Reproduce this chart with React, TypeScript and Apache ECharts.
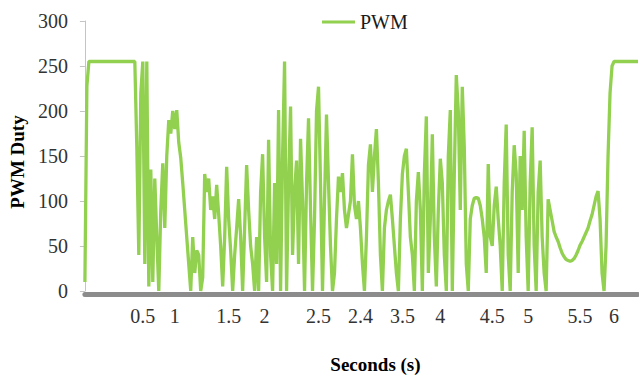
import React, { useEffect, useRef } from "react";
import * as echarts from "echarts";

// PWM duty samples (one sample per category step)
const pwmValues: number[] = [
  10, 228, 255, 255, 255, 255, 255, 255, 255, 255,
  255, 255, 255, 255, 255, 255, 255, 255, 255, 255,
  255, 255, 255, 255, 255, 255, 160, 40, 220, 255,
  30, 255, 5, 135, 10, 125, 60, 0, 90, 142,
  70, 150, 190, 175, 200, 180, 201, 165, 148, 120,
  90, 60, 30, 0, 60, 20, 45, 40, 0, 15,
  130, 110, 125, 90, 105, 80, 118, 85, 50, 5,
  60, 138, 80, 45, 0, 40, 70, 102, 60, 0,
  70, 140, 90, 50, 30, 0, 60, 0, 110, 152,
  60, 10, 168, 40, 0, 120, 30, 201, 0, 150,
  255, 0, 120, 205, 40, 110, 145, 30, 169, 100,
  0, 120, 192, 90, 0, 80, 200, 227, 120, 0,
  100, 196, 120, 50, 0, 20, 80, 127, 110, 131,
  90, 70, 85, 100, 152, 95, 80, 100, 70, 30,
  0, 60, 140, 163, 110, 150, 180, 120, 40, 0,
  70, 90, 100, 107, 80, 50, 20, 0, 80, 130,
  150, 158, 110, 60, 40, 0, 100, 132, 90, 0,
  130, 194, 20, 80, 174, 60, 5, 90, 147, 120,
  40, 0, 150, 201, 0, 130, 240, 200, 90, 227,
  160, 30, 0, 80, 95, 103, 104, 103, 95, 80,
  60, 20, 141, 60, 50, 95, 116, 80, 50, 0,
  120, 185, 40, 0, 110, 162, 130, 20, 150, 90,
  178, 60, 0, 120, 182, 50, 0, 110, 145, 60,
  20, 0, 102, 90, 78, 66, 60, 55, 48, 42,
  38, 35, 34, 33, 34, 36, 40, 45, 51, 55,
  60, 65, 70, 78, 85, 95, 105, 111, 80, 20,
  0, 50, 150, 220, 250, 255, 255, 255, 255, 255,
  255, 255, 255, 255, 255, 255, 255, 255,
];

// x tick labels: [sample index, label]
const xTickIndices: number[] = [29, 45, 72, 90, 117, 138, 159, 178, 204, 222, 248, 265];
const xTickLabels: string[] = ["0.5", "1", "1.5", "2", "2.5", "2.4", "3.5", "4", "4.5", "5", "5.5", "6"];

const categories: string[] = pwmValues.map((_, i) => String(i));

const SERIF = "'Liberation Serif', 'Times New Roman', serif";

export default function App() {
  const ref = useRef<HTMLDivElement>(null);

  useEffect(() => {
    document.body.style.margin = "0";
    if (!ref.current) return;
    const chart = echarts.init(ref.current, null, { renderer: "svg" });
    const labelMap: Record<number, string> = {};
    xTickIndices.forEach((idx, k) => {
      labelMap[idx] = xTickLabels[k];
    });

    chart.setOption({
      animation: false,
      backgroundColor: "#ffffff",
      grid: { left: 84, right: 1, top: 21, bottom: 82, containLabel: false },
      legend: {
        show: true,
        left: 317,
        top: 7,
        icon: "rect",
        itemWidth: 33,
        itemHeight: 3,
        textStyle: { fontFamily: SERIF, fontSize: 20, color: "#1a1a1a" },
        data: ["PWM"],
      },
      xAxis: {
        type: "category",
        data: categories,
        boundaryGap: false,
        name: "Seconds (s)",
        nameLocation: "middle",
        nameGap: 61,
        nameTextStyle: {
          fontFamily: SERIF,
          fontSize: 19,
          fontWeight: "bold",
          color: "#000",
          padding: [0, 0, 0, 28],
        },
        offset: 3,
        axisLine: { onZero: false, lineStyle: { color: "#8c8c8c", width: 5 } },
        axisTick: { show: false },
        axisLabel: {
          interval: (index: number) => labelMap[index] !== undefined,
          formatter: (_v: string, index: number) => labelMap[index] ?? "",
          fontFamily: SERIF,
          fontSize: 20,
          color: "#333",
          margin: 12,
        },
        splitLine: { show: false },
      },
      yAxis: {
        type: "value",
        min: 0,
        max: 300,
        interval: 50,
        name: "PWM Duty",
        nameLocation: "middle",
        nameRotate: 90,
        nameGap: 56,
        nameTextStyle: {
          fontFamily: SERIF,
          fontSize: 19,
          fontWeight: "bold",
          color: "#000",
          padding: [0, 12, 0, 0],
        },
        axisLine: { show: true, lineStyle: { color: "#c4c4c4", width: 1 } },
        axisTick: { show: true, length: 5, lineStyle: { color: "#c4c4c4" } },
        axisLabel: { fontFamily: SERIF, fontSize: 20, color: "#333", margin: 17 },
        splitLine: { show: false },
      },
      series: [
        {
          name: "PWM",
          type: "line",
          data: pwmValues,
          showSymbol: false,
          symbol: "none",
          lineStyle: { color: "#92D050", width: 3.3 },
          itemStyle: { color: "#92D050" },
          z: 3,
        },
      ],
    });

    return () => chart.dispose();
  }, []);

  return <div ref={ref} style={{ width: 639, height: 379 }} />;
}
